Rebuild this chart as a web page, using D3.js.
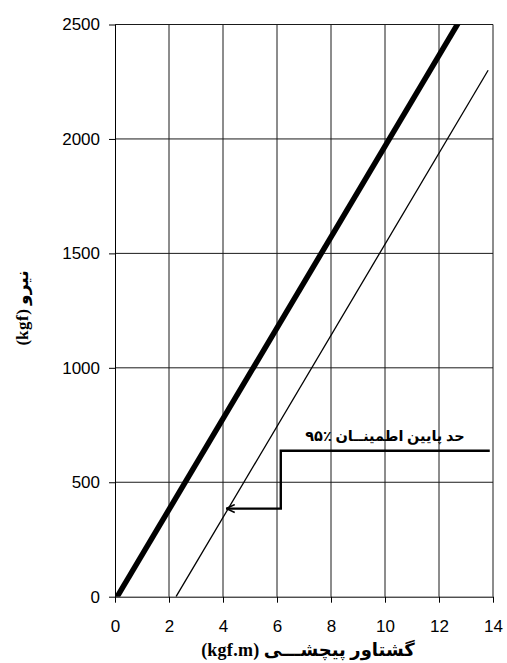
<!DOCTYPE html>
<html>
<head>
<meta charset="utf-8">
<script src="https://cdn.jsdelivr.net/npm/d3@7"></script>
<style>
  html, body { margin: 0; padding: 0; background: #fff; }
  svg { display: block; }
</style>
</head>
<body>
<svg id="chart" width="507" height="663"></svg>
<script>
// Axis ticks
const xTicks = [0, 2, 4, 6, 8, 10, 12, 14];
const yTicks = [0, 500, 1000, 1500, 2000, 2500];

// Mean line (torque vs force)
const meanTorque = [0.08, 12.68];
const meanForce = [0, 2500];

// Lower 95% confidence bound
const lowerTorque = [2.26, 13.82];
const lowerForce = [0, 2300];

// Reading path from the 95% lower-bound force level down to the bound line
const pathTorque = [13.88, 6.14, 6.14, 4.12];
const pathForce = [638, 638, 385, 385];

const xTitle = "گشتاور پیچشـــی (kgf.m)";
const yTitle = "نیرو (kgf)";
const boundLabel = "حد پایین اطمینــان ٪۹۵";

const svg = d3.select("#chart");
const plotLeft = 115, plotRight = 493, plotTop = 24.5, plotBottom = 596.7;

const x = d3.scaleLinear().domain([0, 14]).range([plotLeft, plotRight]);
const y = d3.scaleLinear().domain([0, 2500]).range([plotBottom, plotTop]);

const tickFont = "'Liberation Sans', Arial, sans-serif";
const titleFont = "'Liberation Serif', 'DejaVu Sans', serif";

// Grid
const grid = svg.append("g").attr("stroke", "#1a1a1a").attr("stroke-width", 1);
grid.selectAll("line.v").data(xTicks.slice(1)).join("line")
  .attr("class", "v")
  .attr("x1", d => x(d)).attr("x2", d => x(d))
  .attr("y1", plotTop).attr("y2", plotBottom);
grid.selectAll("line.h").data(yTicks.slice(1)).join("line")
  .attr("class", "h")
  .attr("x1", plotLeft).attr("x2", plotRight)
  .attr("y1", d => y(d)).attr("y2", d => y(d));

// Axes
const yAxis = svg.append("g").attr("transform", `translate(${plotLeft},0)`)
  .call(d3.axisLeft(y).tickValues(yTicks).tickFormat(d3.format("d"))
    .tickSize(6).tickSizeOuter(0).tickPadding(9));
const xAxis = svg.append("g").attr("transform", `translate(0,${plotBottom})`)
  .call(d3.axisBottom(x).tickValues(xTicks).tickFormat(d3.format("d"))
    .tickSize(6).tickSizeOuter(0).tickPadding(17));

[xAxis, yAxis].forEach(a => {
  a.selectAll("path, line").attr("stroke", "#000").attr("stroke-width", 1);
  a.selectAll("text").attr("font-family", tickFont).attr("font-size", 17).attr("fill", "#000");
});

// Plot clip
svg.append("clipPath").attr("id", "plot")
  .append("rect").attr("x", plotLeft).attr("y", plotTop)
  .attr("width", plotRight - plotLeft).attr("height", plotBottom - plotTop);

const line = d3.line().x(d => x(d[0])).y(d => y(d[1]));
const plot = svg.append("g").attr("clip-path", "url(#plot)");

plot.append("path")
  .datum(d3.zip(meanTorque, meanForce))
  .attr("d", line)
  .attr("fill", "none").attr("stroke", "#000")
  .attr("stroke-width", 5.5).attr("stroke-linecap", "square");

plot.append("path")
  .datum(d3.zip(lowerTorque, lowerForce))
  .attr("d", line)
  .attr("fill", "none").attr("stroke", "#000")
  .attr("stroke-width", 1.3);

// Arrow marker
svg.append("defs").append("marker")
  .attr("id", "arrow")
  .attr("viewBox", "0 0 10 10")
  .attr("refX", 9.5).attr("refY", 5)
  .attr("markerWidth", 10).attr("markerHeight", 10)
  .attr("markerUnits", "userSpaceOnUse")
  .attr("orient", "auto")
  .append("path")
  .attr("d", "M1,1 L9.5,5 L1,9")
  .attr("fill", "none").attr("stroke", "#000").attr("stroke-width", 1.6);

svg.append("path")
  .datum(d3.zip(pathTorque, pathForce))
  .attr("d", line)
  .attr("fill", "none").attr("stroke", "#000")
  .attr("stroke-width", 2.4)
  .attr("marker-end", "url(#arrow)");

// Labels
svg.append("text")
  .attr("x", x(10.0)).attr("y", y(638) - 10)
  .attr("direction", "rtl")
  .attr("text-anchor", "middle")
  .attr("font-family", titleFont).attr("font-weight", "bold").attr("font-size", 14.5)
  .text(boundLabel);

svg.append("text")
  .attr("x", 308).attr("y", 656)
  .attr("direction", "rtl")
  .attr("text-anchor", "middle")
  .attr("font-family", titleFont).attr("font-weight", "bold").attr("font-size", 18)
  .attr("letter-spacing", 0.3)
  .text(xTitle);

svg.append("text")
  .attr("transform", "translate(28,308) rotate(-90)")
  .attr("direction", "rtl")
  .attr("text-anchor", "middle")
  .attr("font-family", titleFont).attr("font-weight", "bold").attr("font-size", 17)
  .attr("letter-spacing", 0.5)
  .text(yTitle);
</script>
</body>
</html>
